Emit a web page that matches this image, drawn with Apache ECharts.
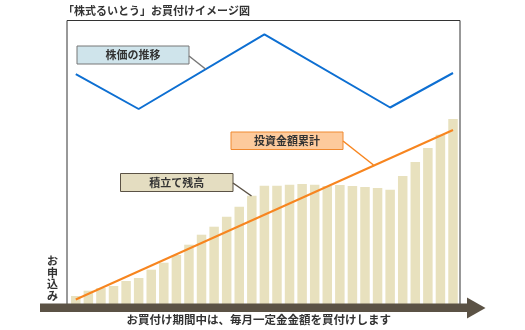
<!DOCTYPE html>
<html>
<head>
<meta charset="utf-8">
<script src="https://cdn.jsdelivr.net/npm/echarts@6/dist/echarts.min.js"></script>
<style>
  html, body { margin: 0; padding: 0; background: #fff; }
  #chart { width: 525px; height: 330px; }
</style>
</head>
<body>
<div id="chart"></div>
<script>
// Purchase months (one bar per monthly purchase)
const months = ['1','2','3','4','5','6','7','8','9','10','11','12','13','14','15','16',
  '17','18','19','20','21','22','23','24','25','26','27','28','29','30','31'];

// Accumulated balance (積立て残高)
const balance = [8, 13.3, 16, 18, 23, 26, 34.3, 41.3, 49, 59.3, 69.3, 77.3, 87.3, 97.3, 108.3, 118.3,
  118.3, 119.3, 120, 119.3, 118, 119, 118, 117, 116, 114.3, 128, 142, 156, 169.3, 185];

// Share price movement (株価の推移): turning points only
const stockPrice = [229.8, null, null, null, null, 195, null, null, null, null, null, null, null, null, null,
  269.7, null, null, null, null, null, null, null, null, null, 196.5, null, null, null, null, 231];

// Cumulative amount invested (投資金額累計): start and end
const invested = [4.5, null, null, null, null, null, null, null, null, null, null, null, null, null, null,
  null, null, null, null, null, null, null, null, null, null, null, null, null, null, null, 174];

const FONT = '"Noto Sans CJK JP", "Noto Sans", sans-serif';
const TEXT = '#333';

function labelBox(x, y, w, h, text, fill, stroke) {
  return {
    type: 'group', x: x, y: y, z: 20,
    children: [
      { type: 'rect', shape: { x: 0, y: 0, width: w, height: h },
        style: { fill: fill, stroke: stroke, lineWidth: 1 } },
      { type: 'text', x: w / 2, y: h / 2,
        style: { text: text, fill: TEXT, font: 'bold 11px ' + FONT,
                 textAlign: 'center', textVerticalAlign: 'middle' } }
    ]
  };
}

const chart = echarts.init(document.getElementById('chart'), null, { renderer: 'canvas' });

chart.setOption({
  animation: false,
  backgroundColor: '#fff',
  grid: { left: 69.5, right: 65.7, top: 20, bottom: 26 },
  xAxis: { type: 'category', data: months, boundaryGap: true, show: false },
  yAxis: { type: 'value', min: 0, max: 284, show: false },
  series: [
    { name: '積立て残高', type: 'bar', data: balance, barWidth: 9.5,
      itemStyle: { color: '#e8e1be' }, z: 2 },
    { name: '投資金額累計', type: 'line', data: invested, connectNulls: true,
      symbol: 'none', lineStyle: { color: '#f7851f', width: 2 }, z: 3 },
    { name: '株価の推移', type: 'line', data: stockPrice, connectNulls: true,
      symbol: 'none', lineStyle: { color: '#0d6fd2', width: 2 }, z: 3 }
  ],
  graphic: [
    // title
    { type: 'text', left: 63, top: 5, z: 20,
      style: { text: '「株式るいとう」お買付けイメージ図', fill: TEXT, font: 'bold 11px ' + FONT } },
    // chart frame
    { type: 'polyline', z: 10,
      shape: { points: [[67, 304], [67, 20.5], [460, 20.5], [460, 304]] },
      style: { stroke: '#333', lineWidth: 1, fill: null } },
    // time axis band and arrow head
    { type: 'rect', z: 11, shape: { x: 40, y: 303.5, width: 428, height: 8.5 },
      style: { fill: '#5b5245' } },
    { type: 'polygon', z: 11, shape: { points: [[467, 297.5], [485.5, 308], [467, 318.5]] },
      style: { fill: '#5b5245' } },
    // leader lines
    { type: 'line', z: 19, shape: { x1: 189, y1: 56, x2: 205.5, y2: 69 },
      style: { stroke: '#777', lineWidth: 1.5 } },
    { type: 'line', z: 19, shape: { x1: 343, y1: 141, x2: 373.5, y2: 165 },
      style: { stroke: '#f7851f', lineWidth: 1.5 } },
    { type: 'line', z: 19, shape: { x1: 233, y1: 183, x2: 251.5, y2: 196 },
      style: { stroke: '#5b5245', lineWidth: 1.5 } },
    // series labels
    labelBox(77, 46, 112, 18, '株価の推移', '#cfe4eb', '#777'),
    labelBox(231, 132, 112, 17.5, '投資金額累計', '#fdca9c', '#f08a30'),
    labelBox(120.5, 173.5, 112.5, 18, '積立て残高', '#e4ddc1', '#5b5245'),
    // vertical label on the left
    { type: 'text', left: 47, top: 255, z: 20,
      style: { text: 'お\n申\n込\nみ', fill: TEXT, font: 'bold 11px ' + FONT,
               lineHeight: 11.7, textAlign: 'center' } },
    // caption under the time axis
    { type: 'text', left: 126.5, top: 314, z: 20,
      style: { text: 'お買付け期間中は、毎月一定金金額を買付けします', fill: TEXT,
               font: 'bold 11.5px ' + FONT } }
  ]
});
</script>
</body>
</html>
